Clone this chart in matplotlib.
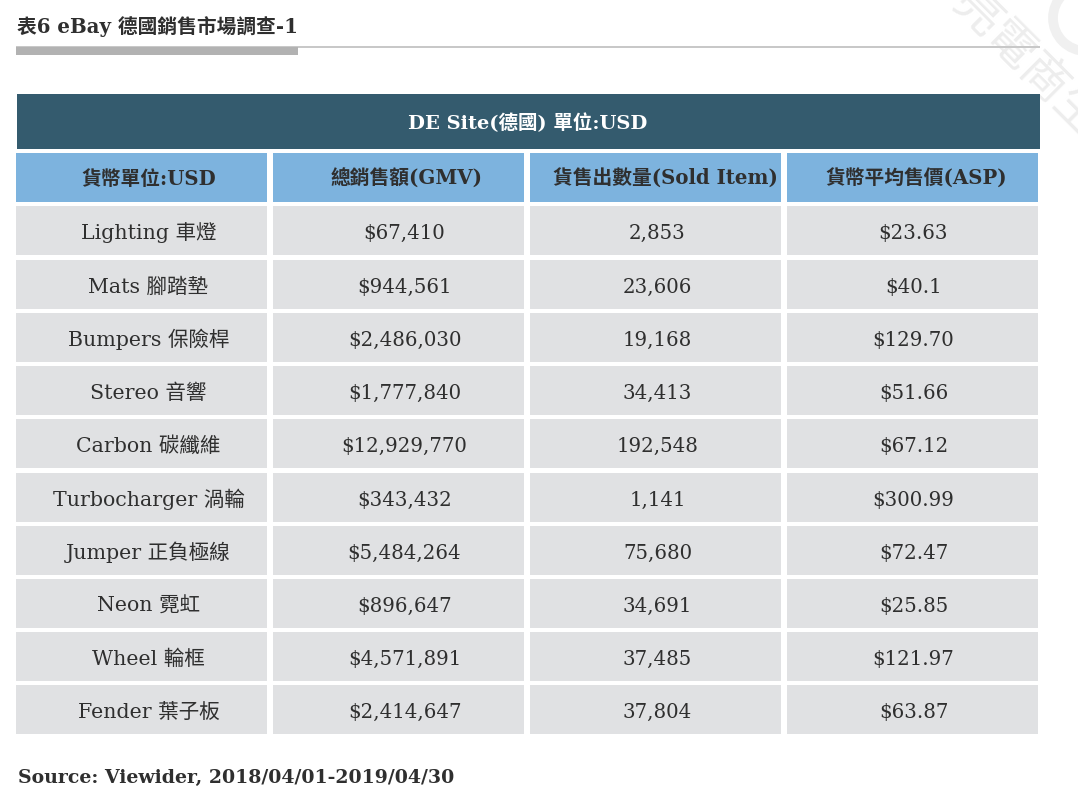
import matplotlib
matplotlib.use("Agg")
from matplotlib import pyplot as plt
from matplotlib.patches import Rectangle, Circle

# table contents
title = "表6 eBay 德國銷售市場調查-1"
banner = "DE Site(德國) 單位:USD"
headers = ["貨幣單位:USD", "總銷售額(GMV)", "貨售出數量(Sold Item)", "貨幣平均售價(ASP)"]
categories = ["Lighting 車燈", "Mats 腳踏墊", "Bumpers 保險桿", "Stereo 音響", "Carbon 碳纖維",
              "Turbocharger 渦輪", "Jumper 正負極線", "Neon 霓虹", "Wheel 輪框", "Fender 葉子板"]
gmv = ["$67,410", "$944,561", "$2,486,030", "$1,777,840", "$12,929,770",
       "$343,432", "$5,484,264", "$896,647", "$4,571,891", "$2,414,647"]
sold = ["2,853", "23,606", "19,168", "34,413", "192,548",
        "1,141", "75,680", "34,691", "37,485", "37,804"]
asp = ["$23.63", "$40.1", "$129.70", "$51.66", "$67.12",
       "$300.99", "$72.47", "$25.85", "$121.97", "$63.87"]
source = "Source: Viewider, 2018/04/01-2019/04/30"
watermark = "亮電商生"

fonts = ["DejaVu Serif", "Noto Sans CJK TC"]
dark = "#2f2f2f"

fig = plt.figure(figsize=(10.78, 8.03), dpi=100)
ax = fig.add_axes([0, 0, 1, 1])
ax.set_xlim(0, 1078)
ax.set_ylim(802, -1)
ax.axis("off")


def cell(x0, y0, x1, y1, color):
    ax.add_patch(Rectangle((x0, y0), x1 - x0, y1 - y0, facecolor=color, edgecolor="none"))


def label(x, y, s, size=13, color=dark, weight="normal", ha="center"):
    ax.text(x, y, s, fontsize=size, color=color, fontweight=weight, ha=ha, va="baseline", family=fonts)


# watermark, top right corner
ax.text(1026, 63, watermark, fontsize=34, color="#ededed", rotation=-45, ha="center", va="center",
        family=fonts, zorder=0)
ax.add_patch(Circle((1086, 18), 33, facecolor="none", edgecolor="#f0f0f0", linewidth=7, zorder=0))

# title and rule
label(17, 32, title, size=14.2, weight="bold", ha="left")
cell(16, 46, 1040, 48, "#c8c8c8")
cell(16, 47, 298, 55, "#b2b2b2")

# banner
cell(17, 94, 1040, 149, "#345b6e")
label(528, 128, banner, size=14, color="white", weight="bold")

# columns and rows
col_x = [16, 273, 530, 787]
col_w = 251
head_center = [148.5, 407, 665, 916]
body_center = [148.5, 404.5, 657.5, 913.5]
body_size = [14.8, 14.2, 14.2, 14.2]
head_y = (153, 202)
row_top = [206, 260, 313, 366, 419, 473, 526, 579, 632, 685]
row_h = 49
columns = [categories, gmv, sold, asp]

for i, (x, head, values) in enumerate(zip(col_x, headers, columns)):
    cell(x, head_y[0], x + col_w, head_y[1], "#7db3de")
    label(head_center[i], 184, head, size=14.2, weight="bold")
    for y, value in zip(row_top, values):
        cell(x, y, x + col_w, y + row_h, "#e0e1e3")
        label(body_center[i], y + 32, value, size=body_size[i])

label(18, 782, source, size=13.6, weight="bold", ha="left")

fig.savefig("out.png", dpi=100)
